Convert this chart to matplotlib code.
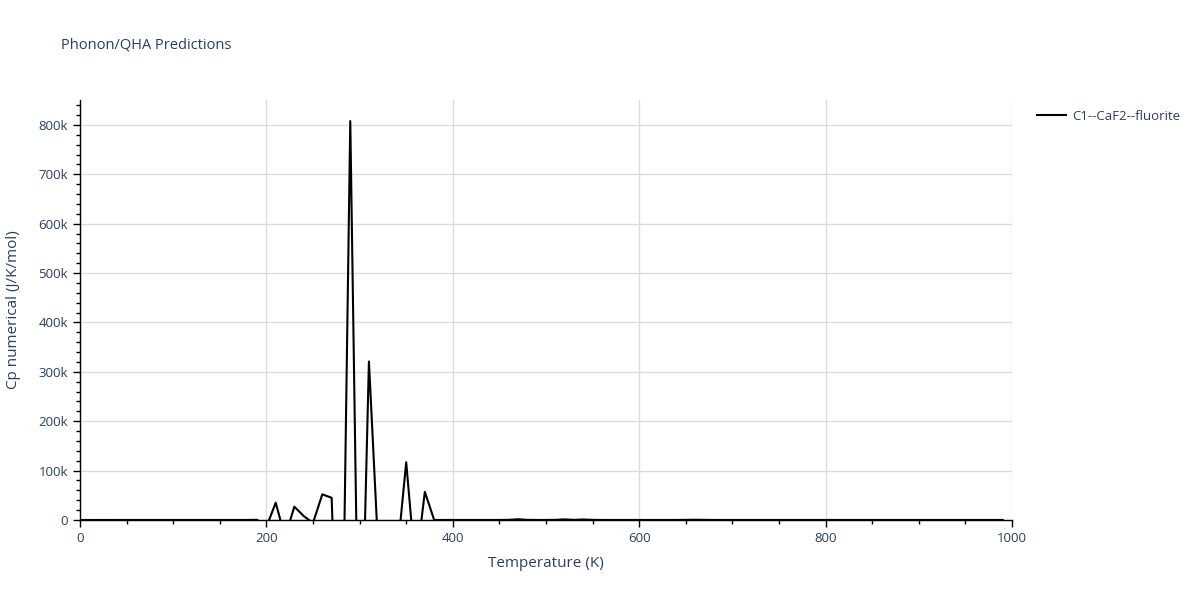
import matplotlib.pyplot as plt
from matplotlib.ticker import MultipleLocator, FuncFormatter

plt.rcParams['font.family'] = ['Open Sans', 'DejaVu Sans']

# temperature grid (K) and numerical Cp (J/K/mol)
temps = list(range(0, 1000, 10))
cp = [0, 10, 30, 42, 50, 56, 60, 62, 64, 65,
      66, 67, 67, 68, 68, 68, 69, 69, 69, 400,
      -14000, 35000, -35000, 27000, 8000, -6000, 52000, 45000, -500000, 808000,
      -450000, 321000, -61000, -50000, -78000, 117000, -100000, 57000, 80, 70,
      70, 70, 70, 70, 70, 70, 300, 1500, 300, 70,
      70, 300, 1200, 300, 1000, 300, 70, 70, 70, 70,
      70, 70, 70, 70, 70, 300, 500, 300, 70, 70,
      70, 70, 70, 70, 70, 70, 70, 70, 70, 70,
      70, 70, 70, 70, 70, 70, 70, 70, 70, 70,
      70, 70, 70, 70, 70, 70, 70, 70, 70, 70]
series_name = "C1--CaF2--fluorite"

txt = '#2a3f5f'

fig = plt.figure(figsize=(12, 6), dpi=100)
ax = fig.add_axes([80 / 1200, 80 / 600, 932 / 1200, 420 / 600])

ax.plot(temps, cp, color='black', linewidth=1.5, label=series_name)

ax.set_xlim(0, 1000)
ax.set_ylim(0, 850600)

ax.xaxis.set_major_locator(MultipleLocator(200))
ax.xaxis.set_minor_locator(MultipleLocator(50))
ax.yaxis.set_major_locator(MultipleLocator(100000))
ax.yaxis.set_minor_locator(MultipleLocator(20000))
ax.yaxis.set_major_formatter(FuncFormatter(lambda v, p: '0' if v == 0 else f'{int(v / 1000)}k'))

ax.grid(True, which='major', color='#dcdcdc', linewidth=1)
ax.set_axisbelow(True)
for s in ['top', 'right']:
    ax.spines[s].set_visible(False)
for s in ['left', 'bottom']:
    ax.spines[s].set_color('black')
    ax.spines[s].set_linewidth(1)

ax.tick_params(which='major', length=5, width=1, color='black', labelcolor=txt, labelsize=9.5)
ax.tick_params(which='minor', length=3, width=1, color='black')

ax.set_xlabel("Temperature (K)", color=txt, fontsize=11, labelpad=8)
ax.set_ylabel("Cp numerical (J/K/mol)", color=txt, fontsize=11, labelpad=13)

fig.text(61 / 1200, 1 - 45 / 600, "Phonon/QHA Predictions", color=txt, fontsize=10.5, va='center')

ax.legend(loc='upper left', bbox_to_anchor=(1.014, 1.005), frameon=False,
          fontsize=9.5, labelcolor=txt, handlelength=2.2, handletextpad=0.5)

fig.savefig('out.png', dpi=100)
